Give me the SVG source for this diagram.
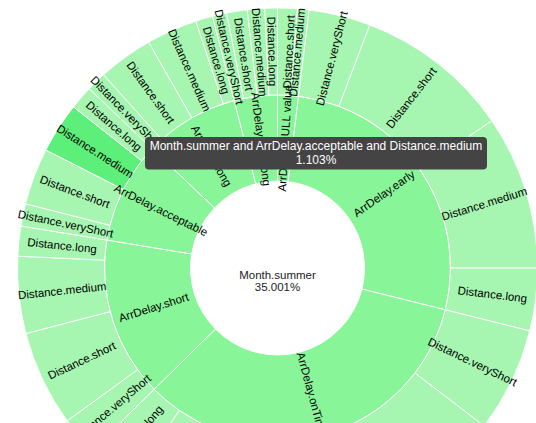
<svg xmlns="http://www.w3.org/2000/svg" width="536" height="423" viewBox="0 0 536 423">
<style>
  .arc { stroke: #ffffff; stroke-width: 1; }
  .d1 { fill: #88f598; }
  .d2 { fill: #a6f6b1; }
  .hl { fill: #5cf07a; }
  .lbl { font-family: "Liberation Sans", Arial, sans-serif; font-size: 11.5px; fill: #000; text-anchor: middle; }
  .ctr { font-family: "Liberation Sans", Arial, sans-serif; font-size: 11.5px; fill: #222; text-anchor: middle; }
  .tip { font-family: "Liberation Sans", Arial, sans-serif; font-size: 12px; fill: #ffffff; text-anchor: middle; }
</style>
<rect width="536" height="423" fill="#ffffff"/>
<g id="sunburst">
  <g id="ring-arrdelay">
    <g id="n-null"><path class="arc d1" d="M277.5,95 A173,173 0 0 1 298.58,96.29 L288.10,181.65 A87,87 0 0 0 277.5,181 Z"/></g>
    <g id="n-early"><path class="arc d1" d="M298.58,96.29 A173,173 0 0 1 445.36,309.85 L361.92,289.05 A87,87 0 0 0 288.10,181.65 Z"/></g>
    <g id="n-ontime"><path class="arc d1" d="M445.36,309.85 A173,173 0 0 1 154.11,389.26 L215.45,328.98 A87,87 0 0 0 361.92,289.05 Z"/></g>
    <g id="n-short"><path class="arc d1" d="M154.11,389.26 A173,173 0 0 1 106.77,240.04 L191.64,253.94 A87,87 0 0 0 215.45,328.98 Z"/></g>
    <g id="n-acceptable"><path class="arc d1" d="M106.77,240.04 A173,173 0 0 1 152.22,148.70 L214.50,208.00 A87,87 0 0 0 191.64,253.94 Z"/></g>
    <g id="n-long"><path class="arc d1" d="M152.22,148.70 A173,173 0 0 1 234.18,100.51 L255.72,183.77 A87,87 0 0 0 214.50,208.00 Z"/></g>
    <g id="n-verylong"><path class="arc d1" d="M234.18,100.51 A173,173 0 0 1 277.5,95 L277.5,181 A87,87 0 0 0 255.72,183.77 Z"/></g>
  </g>
  <g id="ring-distance">
    <g id="n-null-short"><path class="arc d2" d="M277.5,8 A260,260 0 0 1 297.45,8.77 L290.77,95.51 A173,173 0 0 0 277.5,95 Z"/></g>
    <g id="n-null-medium"><path class="arc d2" d="M297.45,8.77 A260,260 0 0 1 309.19,9.94 L298.58,96.29 A173,173 0 0 0 290.77,95.51 Z"/></g>
    <g id="n-early-veryshort"><path class="arc d2" d="M309.19,9.94 A260,260 0 0 1 369.83,24.94 L338.93,106.27 A173,173 0 0 0 298.58,96.29 Z"/></g>
    <g id="n-early-short"><path class="arc d2" d="M369.83,24.94 A260,260 0 0 1 491.77,120.73 L420.07,170.01 A173,173 0 0 0 338.93,106.27 Z"/></g>
    <g id="n-early-medium"><path class="arc d2" d="M491.77,120.73 A260,260 0 0 1 537.5,268 L450.5,268 A173,173 0 0 0 420.07,170.01 Z"/></g>
    <g id="n-early-long"><path class="arc d2" d="M537.5,268 A260,260 0 0 1 529.78,330.90 L445.36,309.85 A173,173 0 0 0 450.5,268 Z"/></g>
    <g id="n-ontime-veryshort"><path class="arc d2" d="M529.78,330.90 A260,260 0 0 1 484.05,425.92 L414.93,373.08 A173,173 0 0 0 445.36,309.85 Z"/></g>
    <g id="n-ontime-short"><path class="arc d2" d="M484.05,425.92 A260,260 0 0 1 263.89,527.64 L268.45,440.76 A173,173 0 0 0 414.93,373.08 Z"/></g>
    <g id="n-ontime-medium"><path class="arc d2" d="M263.89,527.64 A260,260 0 0 1 129.86,482.02 L179.26,410.40 A173,173 0 0 0 268.45,440.76 Z"/></g>
    <g id="n-ontime-long"><path class="arc d2" d="M129.86,482.02 A260,260 0 0 1 92.05,450.24 L154.11,389.26 A173,173 0 0 0 179.26,410.40 Z"/></g>
    <g id="n-short-veryshort"><path class="arc d2" d="M92.05,450.24 A260,260 0 0 1 67.15,420.83 L137.54,369.69 A173,173 0 0 0 154.11,389.26 Z"/></g>
    <g id="n-short-short"><path class="arc d2" d="M67.15,420.83 A260,260 0 0 1 25.89,333.54 L110.08,311.61 A173,173 0 0 0 137.54,369.69 Z"/></g>
    <g id="n-short-medium"><path class="arc d2" d="M25.89,333.54 A260,260 0 0 1 17.77,256.21 L104.68,260.15 A173,173 0 0 0 110.08,311.61 Z"/></g>
    <g id="n-short-long"><path class="arc d2" d="M17.77,256.21 A260,260 0 0 1 20.92,225.98 L106.77,240.04 A173,173 0 0 0 104.68,260.15 Z"/></g>
    <g id="n-acceptable-veryshort"><path class="arc d2" d="M20.92,225.98 A260,260 0 0 1 25.55,203.78 L109.86,225.27 A173,173 0 0 0 106.77,240.04 Z"/></g>
    <g id="n-acceptable-short"><path class="arc d2" d="M25.55,203.78 A260,260 0 0 1 45.84,149.96 L123.36,189.46 A173,173 0 0 0 109.86,225.27 Z"/></g>
    <g id="n-acceptable-medium"><path class="arc hl" d="M45.84,149.96 A260,260 0 0 1 73.46,106.88 L141.73,160.80 A173,173 0 0 0 123.36,189.46 Z"/></g>
    <g id="n-acceptable-long"><path class="arc d2" d="M73.46,106.88 A260,260 0 0 1 89.22,88.70 L152.22,148.70 A173,173 0 0 0 141.73,160.80 Z"/></g>
    <g id="n-long-veryshort"><path class="arc d2" d="M89.22,88.70 A260,260 0 0 1 103.53,74.78 L161.74,139.44 A173,173 0 0 0 152.22,148.70 Z"/></g>
    <g id="n-long-short"><path class="arc d2" d="M103.53,74.78 A260,260 0 0 1 148.68,42.16 L191.79,117.73 A173,173 0 0 0 161.74,139.44 Z"/></g>
    <g id="n-long-medium"><path class="arc d2" d="M148.68,42.16 A260,260 0 0 1 195.86,21.15 L223.18,103.75 A173,173 0 0 0 191.79,117.73 Z"/></g>
    <g id="n-long-long"><path class="arc d2" d="M195.86,21.15 A260,260 0 0 1 212.40,16.28 L234.18,100.51 A173,173 0 0 0 223.18,103.75 Z"/></g>
    <g id="n-verylong-veryshort"><path class="arc d2" d="M212.40,16.28 A260,260 0 0 1 226.55,13.04 L243.60,98.35 A173,173 0 0 0 234.18,100.51 Z"/></g>
    <g id="n-verylong-short"><path class="arc d2" d="M226.55,13.04 A260,260 0 0 1 247.17,9.78 L257.32,96.18 A173,173 0 0 0 243.60,98.35 Z"/></g>
    <g id="n-verylong-medium"><path class="arc d2" d="M247.17,9.78 A260,260 0 0 1 264.80,8.31 L269.05,95.21 A173,173 0 0 0 257.32,96.18 Z"/></g>
    <g id="n-verylong-long"><path class="arc d2" d="M264.80,8.31 A260,260 0 0 1 277.5,8 L277.5,95 A173,173 0 0 0 269.05,95.21 Z"/></g>
  </g>
</g>
<g id="labels">
  <text id="l-null" class="lbl" dy="0.35em" transform="translate(284.98,138.22) rotate(-86.7)">ArrDelay.NULL value</text>
  <text id="l-early" class="lbl" dy="0.35em" transform="translate(383.99,193.43) rotate(-35)">ArrDelay.early</text>
  <text id="l-ontime" class="lbl" dy="0.35em" transform="translate(311.69,393.42) rotate(74.75)">ArrDelay.onTime</text>
  <text id="l-short" class="lbl" dy="0.35em" transform="translate(153.59,307.31) rotate(-17.6)">ArrDelay.short</text>
  <text id="l-acceptable" class="lbl" dy="0.35em" transform="translate(161.11,210.10) rotate(26.45)">ArrDelay.acceptable</text>
  <text id="l-long" class="lbl" dy="0.35em" transform="translate(211.62,155.93) rotate(59.55)">ArrDelay.long</text>
  <text id="l-verylong" class="lbl" dy="0.35em" transform="translate(261.09,139.04) rotate(82.75)">ArrDelay.veryLong</text>

  <text id="l-null-short" class="lbl" dy="0.35em" transform="translate(288.83,51.80) rotate(-87)">Distance.short</text>
  <text id="l-null-medium" class="lbl" dy="0.35em" transform="translate(297.12,52.39) rotate(-84.8)">Distance.medium</text>
  <text id="l-early-veryshort" class="lbl" dy="0.35em" transform="translate(331.71,58.40) rotate(-75.5)">Distance.veryShort</text>
  <text id="l-early-short" class="lbl" dy="0.35em" transform="translate(411.24,97.75) rotate(-51.85)">Distance.short</text>
  <text id="l-early-medium" class="lbl" dy="0.35em" transform="translate(484.26,203.80) rotate(-17.25)">Distance.medium</text>
  <text id="l-early-long" class="lbl" dy="0.35em" transform="translate(492.39,294.38) rotate(7)">Distance.long</text>
  <text id="l-ontime-veryshort" class="lbl" dy="0.35em" transform="translate(472.58,361.89) rotate(25.7)">Distance.veryShort</text>
  <text id="l-ontime-long" class="lbl" dy="0.35em" transform="translate(138.19,433.73) rotate(-49.95)">Distance.long</text>
  <text id="l-short-veryshort" class="lbl" dy="0.35em" transform="translate(112.26,407.89) rotate(-40.25)">Distance.veryShort</text>
  <text id="l-short-short" class="lbl" dy="0.35em" transform="translate(81.77,360.52) rotate(-25.3)">Distance.short</text>
  <text id="l-short-medium" class="lbl" dy="0.35em" transform="translate(62.19,290.63) rotate(-6)">Distance.medium</text>
  <text id="l-short-long" class="lbl" dy="0.35em" transform="translate(62.17,245.56) rotate(5.95)">Distance.long</text>
  <text id="l-acceptable-veryshort" class="lbl" dy="0.35em" transform="translate(65.58,223.73) rotate(11.8)">Distance.veryShort</text>
  <text id="l-acceptable-short" class="lbl" dy="0.35em" transform="translate(74.91,191.65) rotate(20.65)">Distance.short</text>
  <text id="l-acceptable-medium" class="lbl" dy="0.35em" transform="translate(95.21,151.21) rotate(32.65)">Distance.medium</text>
  <text id="l-acceptable-long" class="lbl" dy="0.35em" transform="translate(113.97,126.12) rotate(40.95)">Distance.long</text>
  <text id="l-long-veryshort" class="lbl" dy="0.35em" transform="translate(126.56,112.79) rotate(45.8)">Distance.veryShort</text>
  <text id="l-long-short" class="lbl" dy="0.35em" transform="translate(150.72,92.50) rotate(54.15)">Distance.short</text>
  <text id="l-long-medium" class="lbl" dy="0.35em" transform="translate(189.44,70.22) rotate(66)">Distance.medium</text>
  <text id="l-long-long" class="lbl" dy="0.35em" transform="translate(216.37,60.31) rotate(73.6)">Distance.long</text>
  <text id="l-verylong-veryshort" class="lbl" dy="0.35em" transform="translate(229.17,56.96) rotate(77.1)">Distance.veryShort</text>
  <text id="l-verylong-short" class="lbl" dy="0.35em" transform="translate(243.63,54.17) rotate(81)">Distance.short</text>
  <text id="l-verylong-medium" class="lbl" dy="0.35em" transform="translate(259.57,52.24) rotate(85.25)">Distance.medium</text>
  <text id="l-verylong-long" class="lbl" dy="0.35em" transform="translate(272.21,51.56) rotate(88.6)">Distance.long</text>
</g>
<g id="center">
  <text class="ctr" x="277.5" y="279">Month.summer</text>
  <text class="ctr" x="277.5" y="290.5">35.001%</text>
</g>
<g id="tooltip">
  <rect x="145" y="137" width="342" height="32.5" rx="4" ry="4" fill="#444444"/>
  <text class="tip" x="316" y="149.5">Month.summer and ArrDelay.acceptable and Distance.medium</text>
  <text class="tip" x="316" y="163.5">1.103%</text>
</g>
</svg>
